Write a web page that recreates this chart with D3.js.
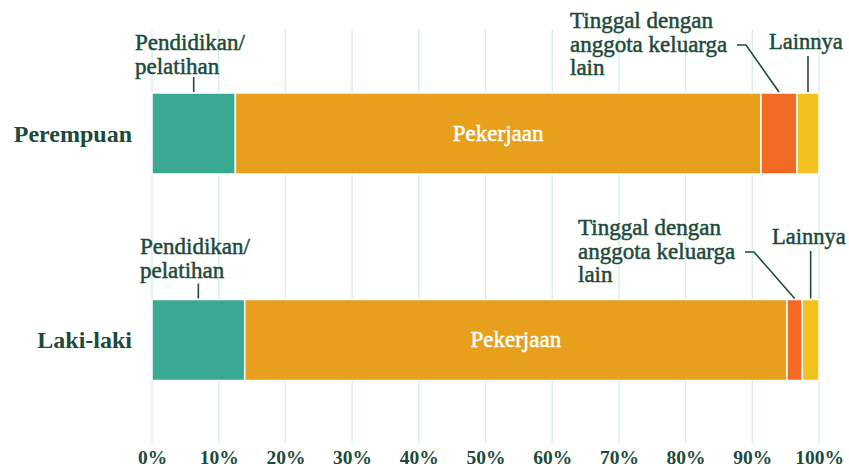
<!DOCTYPE html>
<html><head><meta charset="utf-8">
<script src="https://cdn.jsdelivr.net/npm/d3@7"></script>
<style>
body{margin:0;background:#fff;}
</style></head>
<body><svg id="c" width="849" height="475"></svg>
<script>
const categories = ["Perempuan", "Laki-laki"];
const series = ["Pendidikan/pelatihan", "Pekerjaan", "Tinggal dengan anggota keluarga lain", "Lainnya"];
const pendidikan = [12.5, 13.9];
const pekerjaan = [78.8, 81.3];
const tinggal = [5.4, 2.3];
const lainnya = [3.3, 2.5];
const tickValues = [0,10,20,30,40,50,60,70,80,90,100];
const tickLabels = ["0%","10%","20%","30%","40%","50%","60%","70%","80%","90%","100%"];

const FONT = "Liberation Serif";
const colors = ["#3aa991", "#e7a01b", "#f26924", "#f2c31f"];
const ink = "#1c4a3b";
const svg = d3.select("#c").attr("font-family", FONT);
const x = d3.scaleLinear().domain([0,100]).range([152, 819]);
const y = d3.scalePoint().domain(categories).range([133.5, 340]);
const barH = 81;

// grid
svg.append("g").selectAll("line").data(tickValues).join("line")
  .attr("x1", d=>x(d)).attr("x2", d=>x(d)).attr("y1", 30).attr("y2", 443)
  .attr("stroke", "#d3eee8").attr("stroke-width", 1.3);

// axis
const ax = svg.append("g").attr("transform","translate(0,450)")
  .call(d3.axisBottom(x).tickValues(tickValues).tickSize(0).tickFormat((d,i)=>tickLabels[i]));
ax.attr("font-family", FONT);
ax.select(".domain").remove();
ax.selectAll("text").attr("font-size",19.5)
  .attr("font-weight","bold").attr("fill", ink).attr("dy","0.55em");

// stacked data
const rows = categories.map((c,i)=>({cat:c, vals:[pendidikan[i], pekerjaan[i], tinggal[i], lainnya[i]]}));
const segs = [];
rows.forEach(r=>{ let cum=0; r.vals.forEach((v,j)=>{ segs.push({cat:r.cat, j, x0:cum, x1:cum+v}); cum+=v; }); });

svg.append("g").selectAll("rect").data(segs).join("rect")
  .attr("x", d=>x(d.x0)).attr("width", d=>x(d.x1)-x(d.x0))
  .attr("y", d=>y(d.cat)-barH/2).attr("height", barH)
  .attr("fill", d=>colors[d.j]).attr("stroke","#fff").attr("stroke-width",1.5);

// category labels
svg.append("g").selectAll("text").data(categories).join("text")
  .attr("x", 132).attr("y", d=>y(d)+8).attr("text-anchor","end").attr("font-family", FONT)
  .attr("font-size",24).attr("font-weight","bold").attr("fill",ink).text(d=>d);

// Pekerjaan inner label
svg.append("g").selectAll("text").data(segs.filter(s=>s.j===1)).join("text")
  .attr("x", d=>x((d.x0+d.x1)/2)).attr("y", d=>y(d.cat)+7).attr("text-anchor","middle")
  .attr("font-family", FONT).attr("stroke","#fff").attr("stroke-width",0.5)
  .attr("font-size",23).attr("fill","#fff").text(series[1].split("/")[0]);

// annotations
const g = svg.append("g");
function multiline(xp, yp, lines, fs){
  const t = g.append("text").attr("x",xp).attr("y",yp).attr("font-size",fs||23)
    .attr("font-family", FONT).attr("fill",ink).attr("stroke",ink).attr("stroke-width",0.5);
  lines.forEach((l,i)=>t.append("tspan").attr("x",xp).attr("dy", i?23.5:0).text(l));
}
function line(pts){
  g.append("path").attr("d", d3.line()(pts)).attr("fill","none").attr("stroke",ink).attr("stroke-width",1.6);
}
const ann = [
  {cat:"Perempuan", pX:135, pY:50, tX:570, tY:28, lX:769, lY:49},
  {cat:"Laki-laki", pX:140, pY:254, tX:578, tY:235, lX:772, lY:244}
];
ann.forEach(a=>{
  const top = y(a.cat)-barH/2;
  const s = segs.filter(d=>d.cat===a.cat);
  const mid = j => x((s[j].x0+s[j].x1)/2);
  multiline(a.pX, a.pY, ["Pendidikan/","pelatihan"]);
  line([[mid(0), top-16],[mid(0), top-1]]);
  multiline(a.tX, a.tY, ["Tinggal dengan","anggota keluarga","lain"]);
  line([[a.tX+167, a.tY+17],[a.tX+176, a.tY+17],[mid(2), top-1]]);
  multiline(a.lX, a.lY, ["Lainnya"], 22.5);
  line([[mid(3), a.lY+7],[mid(3), top-1]]);
});
</script></body></html>
